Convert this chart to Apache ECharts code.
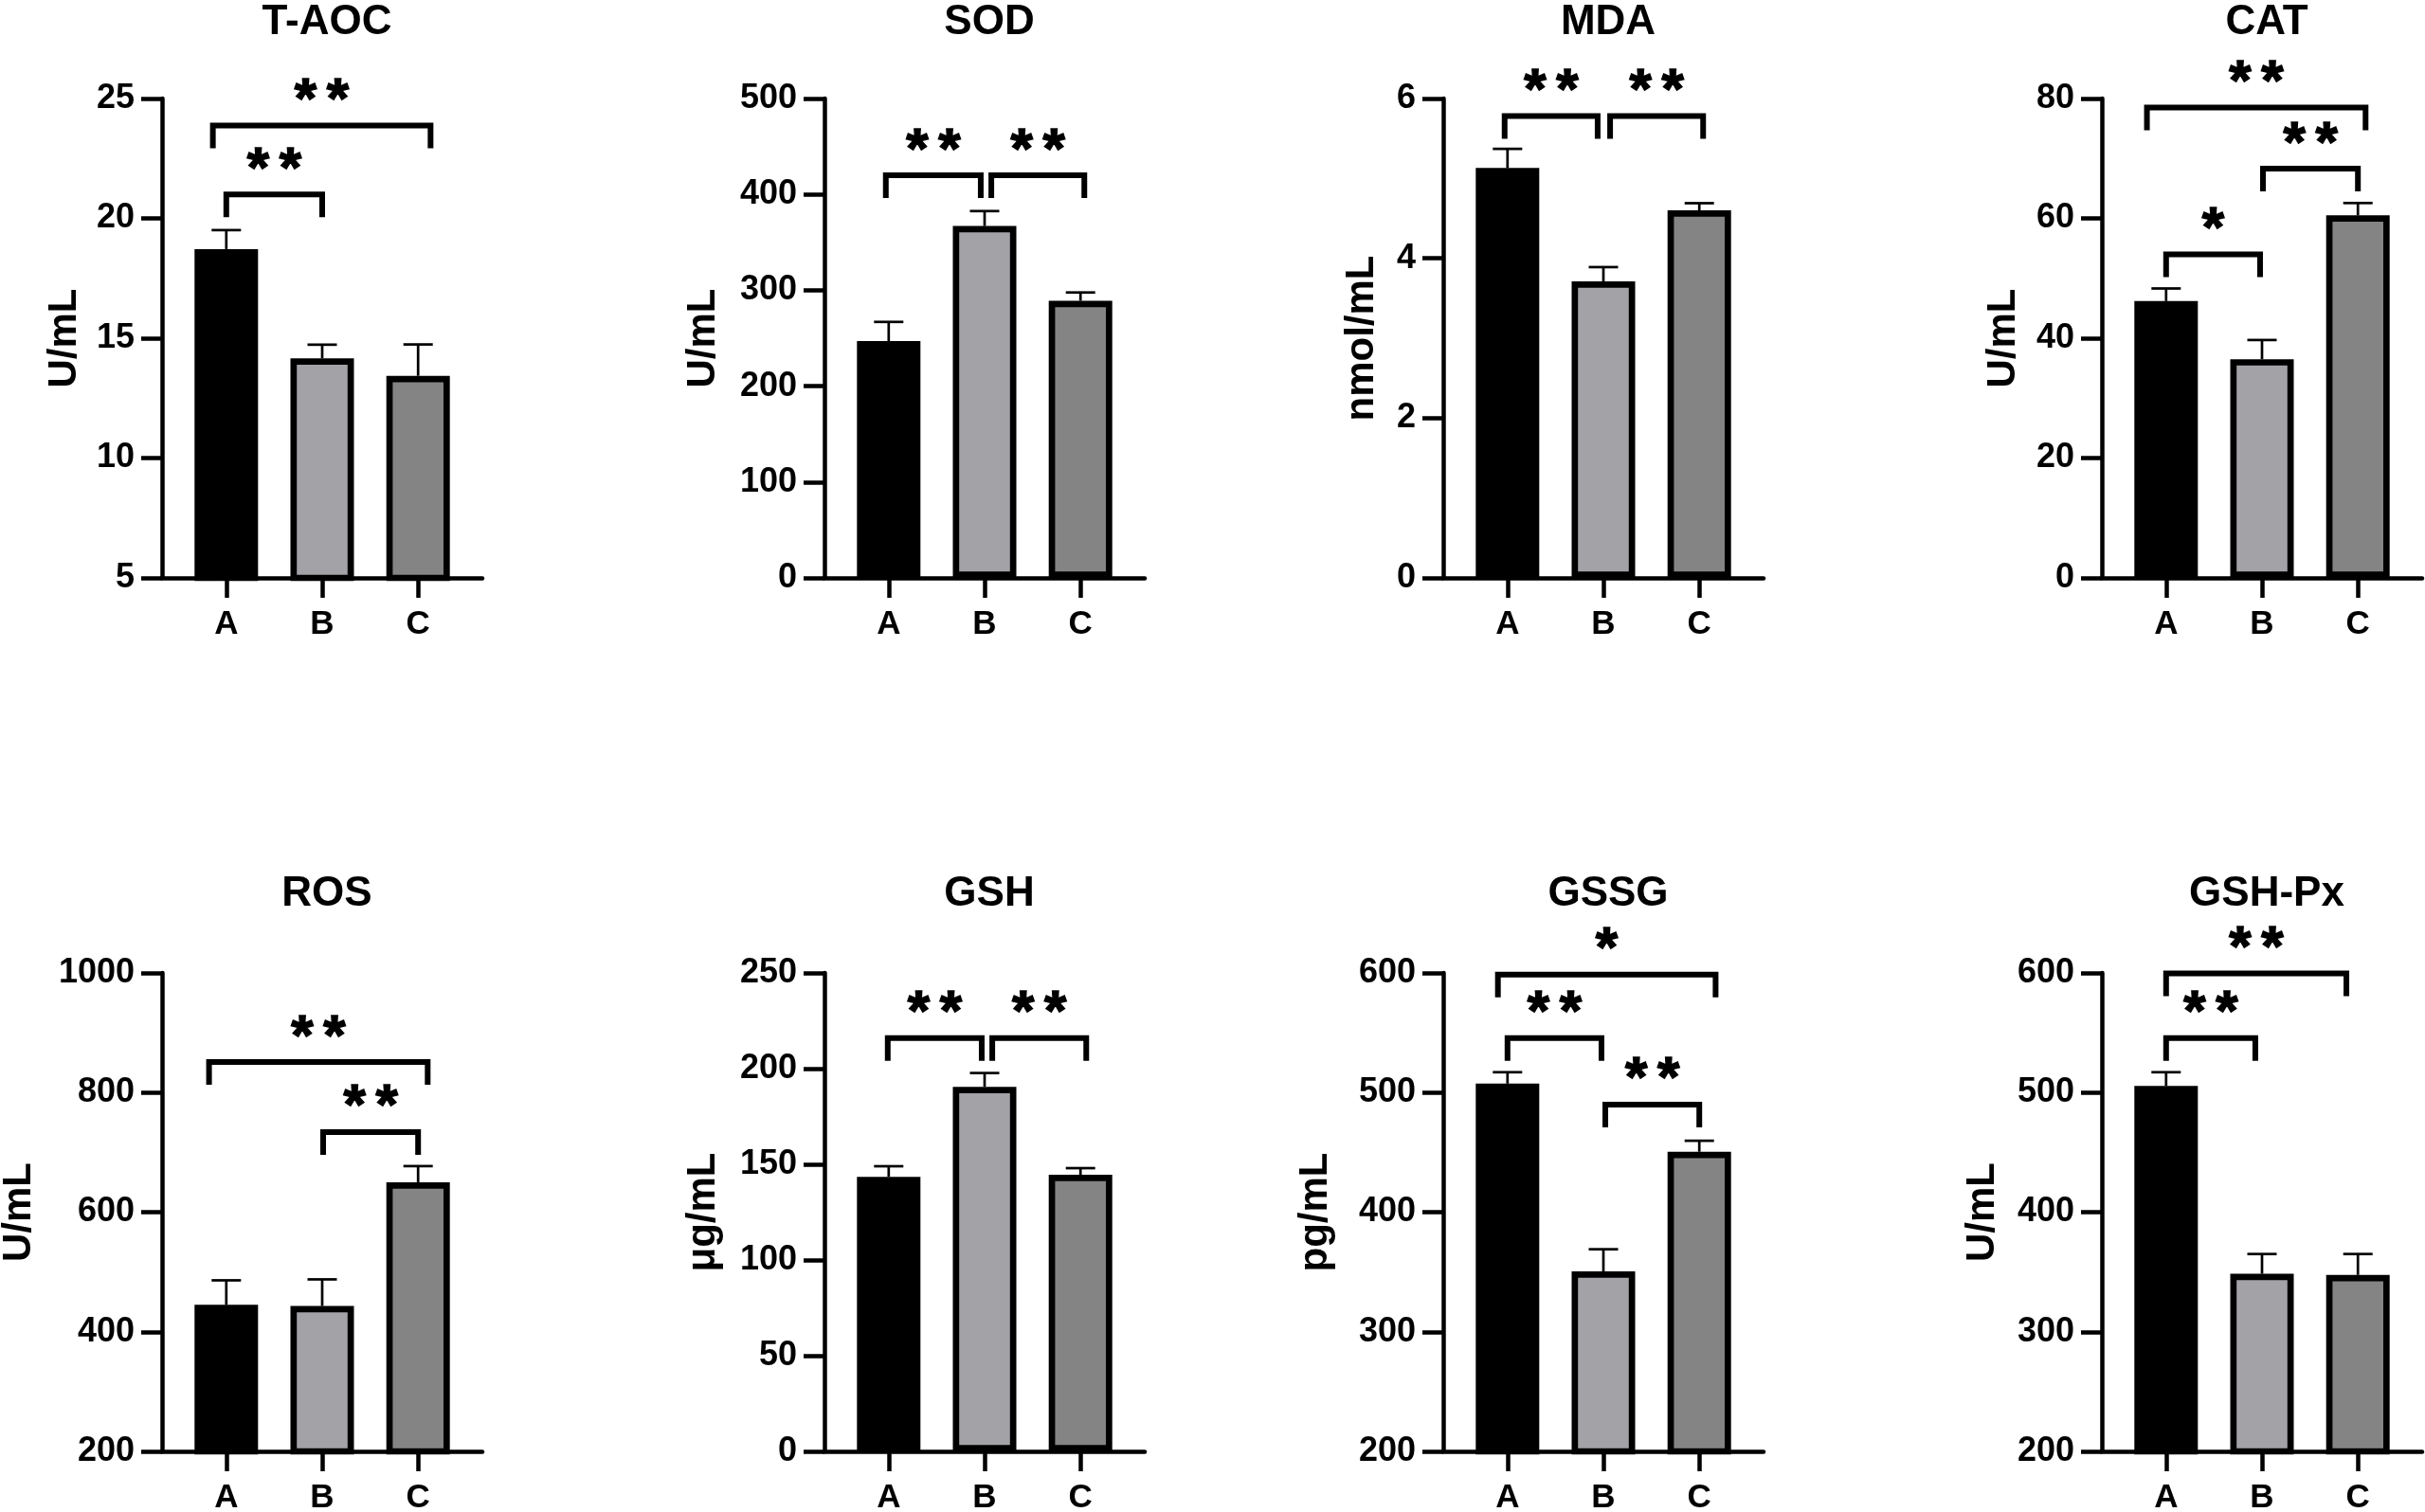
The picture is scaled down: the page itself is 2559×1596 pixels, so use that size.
<!DOCTYPE html>
<html>
<head>
<meta charset="utf-8">
<title>Oxidative stress markers</title>
<script src="https://cdn.jsdelivr.net/npm/echarts@6/dist/echarts.min.js"></script>
<style>
	html, body { margin: 0; padding: 0; background: #fff; }
	#container { width: 2559px; height: 1596px; }
</style>
</head>
<body>
<div id="container"></div>
<script>
// data
var categories = ['A', 'B', 'C'];
var panelTitles = ['T-AOC', 'SOD', 'MDA', 'CAT', 'ROS', 'GSH', 'GSSG', 'GSH-Px'];
var unitLabels = ['U/mL', 'U/mL', 'nmol/mL', 'U/mL', 'U/mL', 'μg/mL', 'pg/mL', 'U/mL'];
var yMin = [5, 0, 0, 0, 200, 0, 200, 200];
var yMax = [25, 500, 6, 80, 1000, 250, 600, 600];
var yStep = [5, 100, 2, 20, 200, 50, 100, 100];
var means = [
	[18.72, 14.16, 13.43],
	[247, 367, 289],
	[5.13, 3.71, 4.60],
	[46.2, 36.5, 60.5],
	[445, 443, 650],
	[143.5, 190.5, 144.5],
	[507.5, 350.5, 450.5],
	[505.5, 348.5, 347.5]
];
var sds = [
	[0.79, 0.57, 1.31],
	[20, 15.6, 8.7],
	[0.24, 0.18, 0.09],
	[2.1, 3.2, 2.06],
	[41, 44.6, 27],
	[5.5, 7.2, 3.5],
	[9.5, 18.5, 9.2],
	[11.5, 16.5, 17.5]
];
// [from, to, height, mark]
var brackets = [
	[[0, 1, 21.0, '**'], [-0.14, 2.13, 23.87, '**']],
	[[-0.03, 0.96, 420, '**'], [1.07, 2.04, 420, '**']],
	[[-0.03, 0.94, 5.78, '**'], [1.07, 2.04, 5.78, '**']],
	[[0, 0.98, 54.0, '*'], [1.01, 2.0, 68.3, '**'], [-0.2, 2.08, 78.5, '**']],
	[[1.01, 2.0, 734, '**'], [-0.18, 2.1, 851, '**']],
	[[-0.01, 0.97, 216, '**'], [1.08, 2.06, 216, '**']],
	[[0, 0.98, 545.6, '**'], [1.02, 2.0, 490, '**'], [-0.1, 2.17, 598.6, '*']],
	[[0, 0.93, 545.6, '**'], [0, 1.88, 599.6, '**']]
];

// layout / style
var FONT = '"Liberation Sans", Arial, Helvetica, sans-serif';
var barColors = ['#000000', '#a3a3a7', '#848484'];
var gridLefts = [171, 870, 1523, 2218];
var rowTops = [104, 1027];
var rowHeights = [506, 505];
var titleTops = [-3, 917];
var nameGaps = [82, 107, 65, 83, 130, 107, 114, 105];
var axisStyle = { color: '#000', width: 4.5 };

var dom = document.getElementById('container');
var myChart = echarts.init(dom, null, { renderer: 'canvas' });

var option = {
	animation: false,
	backgroundColor: '#ffffff',
	title: [],
	grid: [],
	xAxis: [],
	yAxis: [],
	series: []
};

panelTitles.forEach(function (name, i) {
	var row = Math.floor(i / 4);
	var left = gridLefts[i % 4];

	option.title.push({
		text: name,
		left: left + 169,
		top: titleTops[row],
		textAlign: 'center',
		textStyle: { color: '#000', fontSize: 44, fontWeight: 'bold', fontFamily: FONT }
	});

	option.grid.push({
		left: left,
		top: rowTops[row],
		width: 338,
		height: rowHeights[row],
		containLabel: false,
		outerBoundsMode: 'none'
	});

	option.xAxis.push({
		type: 'value',
		gridIndex: i,
		min: -0.67,
		max: 2.67,
		z: 5,
		splitLine: { show: false },
		axisLine: { show: true, onZero: false, lineStyle: axisStyle },
		axisTick: { show: true, customValues: [0, 1, 2], length: 21, lineStyle: axisStyle },
		axisLabel: {
			show: true,
			customValues: [0, 1, 2],
			formatter: function (v) { return categories[Math.round(v)]; },
			margin: 32,
			color: '#000',
			fontSize: 35,
			fontWeight: 'bold',
			fontFamily: FONT
		}
	});

	option.yAxis.push({
		type: 'value',
		gridIndex: i,
		min: yMin[i],
		max: yMax[i],
		interval: yStep[i],
		name: unitLabels[i],
		nameLocation: 'middle',
		nameGap: nameGaps[i],
		nameMoveOverlap: false,
		nameTextStyle: { color: '#000', fontSize: 42, fontWeight: 'bold', fontFamily: FONT },
		splitLine: { show: false },
		axisLine: { show: true, onZero: false, lineStyle: axisStyle },
		axisTick: { show: true, length: 22, lineStyle: axisStyle },
		axisLabel: {
			margin: 29,
			color: '#000',
			fontSize: 36,
			fontWeight: 'bold',
			fontFamily: FONT,
			formatter: function (v) { return String(v); }
		}
	});

	// bars (border is drawn inside the bar)
	option.series.push({
		type: 'bar',
		xAxisIndex: i,
		yAxisIndex: i,
		barWidth: 67,
		clip: true,
		z: 3,
		data: means[i].map(function (m, k) {
			return {
				value: [k, m],
				itemStyle: { color: barColors[k], borderColor: '#000', borderWidth: 6.7 }
			};
		})
	});

	// error bars (mean + SD)
	option.series.push({
		type: 'custom',
		xAxisIndex: i,
		yAxisIndex: i,
		z: 2,
		encode: { x: 0, y: [1, 2] },
		data: means[i].map(function (m, k) { return [k, m, m + sds[i][k]]; }),
		renderItem: function (params, api) {
			var x = api.value(0);
			var p0 = api.coord([x, api.value(1)]);
			var p1 = api.coord([x, api.value(2)]);
			var st = { stroke: '#000', lineWidth: 2.7 };
			return {
				type: 'group',
				children: [
					{ type: 'line', shape: { x1: p0[0], y1: p0[1], x2: p1[0], y2: p1[1] }, style: st },
					{ type: 'line', shape: { x1: p1[0] - 15.5, y1: p1[1], x2: p1[0] + 15.5, y2: p1[1] }, style: st }
				]
			};
		}
	});

	// significance brackets with stars
	var bk = brackets[i];
	option.series.push({
		type: 'custom',
		xAxisIndex: i,
		yAxisIndex: i,
		z: 4,
		clip: false,
		encode: { x: [0, 1], y: 2 },
		data: bk.map(function (b) { return [b[0], b[1], b[2]]; }),
		renderItem: function (params, api) {
			var a = api.coord([api.value(0), api.value(2)]);
			var b = api.coord([api.value(1), api.value(2)]);
			var cx = (a[0] + b[0]) / 2;
			var marks = bk[params.dataIndex][3];
			var children = [{
				type: 'polyline',
				shape: { points: [[a[0], a[1] + 24], [a[0], a[1]], [b[0], b[1]], [b[0], b[1] + 24]] },
				style: { stroke: '#000', lineWidth: 6, fill: null, lineJoin: 'miter' }
			}];
			for (var j = 0; j < marks.length; j++) {
				children.push({
					type: 'text',
					x: cx + (j - (marks.length - 1) / 2) * 34,
					y: a[1] - 25,
					style: {
						text: '*',
						fill: '#000',
						stroke: '#000',
						lineWidth: 1.5,
						fontSize: 60,
						fontWeight: 'bold',
						fontFamily: FONT,
						align: 'center',
						verticalAlign: 'middle'
					}
				});
			}
			return { type: 'group', children: children };
		}
	});
});

myChart.setOption(option, true);
</script>
</body>
</html>
